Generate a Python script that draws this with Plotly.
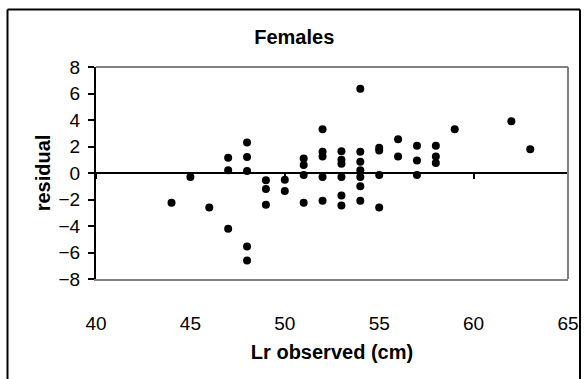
import plotly.graph_objects as go

x_obs = [44, 45, 46, 47, 47, 47, 48, 48, 48, 48, 48, 49, 49, 49, 50, 50,
         51, 51, 51, 51, 52, 52, 52, 52, 52, 53, 53, 53, 53, 53, 53,
         54, 54, 54, 54, 54, 54, 54, 55, 55, 55, 55, 56, 56, 57, 57, 57,
         58, 58, 58, 59, 62, 63]
resid = [-2.25, -0.3, -2.6, 1.15, 0.2, -4.2, 2.3, 1.2, 0.15, -5.55, -6.6,
         -0.55, -1.2, -2.4, -0.5, -1.35, 1.1, 0.6, -0.15, -2.25,
         3.3, 1.6, 1.25, -0.3, -2.1, 1.65, 1.0, 0.7, -0.3, -1.7, -2.45,
         6.35, 1.6, 0.85, 0.2, -0.3, -1.0, -2.1, 1.9, 1.7, -0.15, -2.6,
         2.55, 1.25, 2.05, 0.95, -0.15, 2.05, 1.25, 0.75, 3.3, 3.9, 1.8]

x_ticks = [40, 45, 50, 55, 60, 65]
y_ticks = [-8, -6, -4, -2, 0, 2, 4, 6, 8]

FONT = "Liberation Sans, Arial, sans-serif"

fig = go.Figure()
fig.add_trace(go.Scatter(
    x=x_obs, y=resid, mode="markers",
    marker=dict(color="black", size=8, line=dict(width=0)),
    showlegend=False, hoverinfo="x+y",
))
# empty trace on x2 so the axis crossing at y=0 is drawn
fig.add_trace(go.Scatter(x=[], y=[], xaxis="x2", showlegend=False))

# outer frame edges in paper units of the plot area
FL = (7.5 - 96) / 472
FR = (580 - 96) / 472
FT = (279 - 9.5) / 212
FB = -0.6

fig.update_layout(
    width=585, height=379,
    margin=dict(l=96, r=17, t=67, b=100, autoexpand=False),
    paper_bgcolor="white", plot_bgcolor="white",
    font=dict(family=FONT, color="black"),
    title=dict(text="<b>Females</b>", x=0.503, xref="container", xanchor="center",
               y=1 - 37 / 379, yref="container", yanchor="middle",
               automargin=False,
               font=dict(size=20, family=FONT, color="black")),
    xaxis=dict(
        range=[40, 65], tickvals=x_ticks, showgrid=False, zeroline=False,
        showline=True, linecolor="#808080", linewidth=2, automargin=False,
        ticks="", showticklabels=True, ticklabelstandoff=26,
        tickfont=dict(size=19, family=FONT, color="black"),
        title=dict(text="<b>Lr observed (cm)</b>", standoff=12,
                   font=dict(size=20, family=FONT, color="black")),
    ),
    xaxis2=dict(
        range=[40, 65], matches="x", overlaying="x", anchor="free", position=0.5,
        tickvals=x_ticks, showgrid=False, zeroline=False, automargin=False,
        showline=True, linecolor="black", linewidth=2,
        ticks="outside", ticklen=5, tickwidth=2, tickcolor="black",
        showticklabels=False,
    ),
    yaxis=dict(
        range=[-8, 8], tickvals=y_ticks, showgrid=False, zeroline=False,
        showline=True, linecolor="black", linewidth=2, automargin=False,
        ticks="outside", ticklen=6, tickwidth=2, tickcolor="black",
        ticklabelstandoff=4,
        tickfont=dict(size=19, family=FONT, color="black"),
        title=dict(text="<b>residual</b>", standoff=3,
                   font=dict(size=20, family=FONT, color="black")),
    ),
    shapes=[
        # grey top and right edges of the plot area
        dict(type="line", xref="paper", yref="paper", x0=0, x1=1, y0=1, y1=1,
             line=dict(color="#808080", width=2), layer="above"),
        dict(type="line", xref="paper", yref="paper", x0=1, x1=1, y0=0, y1=1,
             line=dict(color="#808080", width=2), layer="above"),
        # outer chart frame
        dict(type="line", xref="paper", yref="paper", x0=FL, x1=FR, y0=FT, y1=FT,
             line=dict(color="black", width=2), layer="above"),
        dict(type="line", xref="paper", yref="paper", x0=FL, x1=FL, y0=FB, y1=FT,
             line=dict(color="black", width=2), layer="above"),
        dict(type="line", xref="paper", yref="paper", x0=FR, x1=FR, y0=FB, y1=FT,
             line=dict(color="black", width=2), layer="above"),
    ],
)

fig.write_html("out.html", config={"displayModeBar": False},
               post_script="document.body.style.margin='0';")
